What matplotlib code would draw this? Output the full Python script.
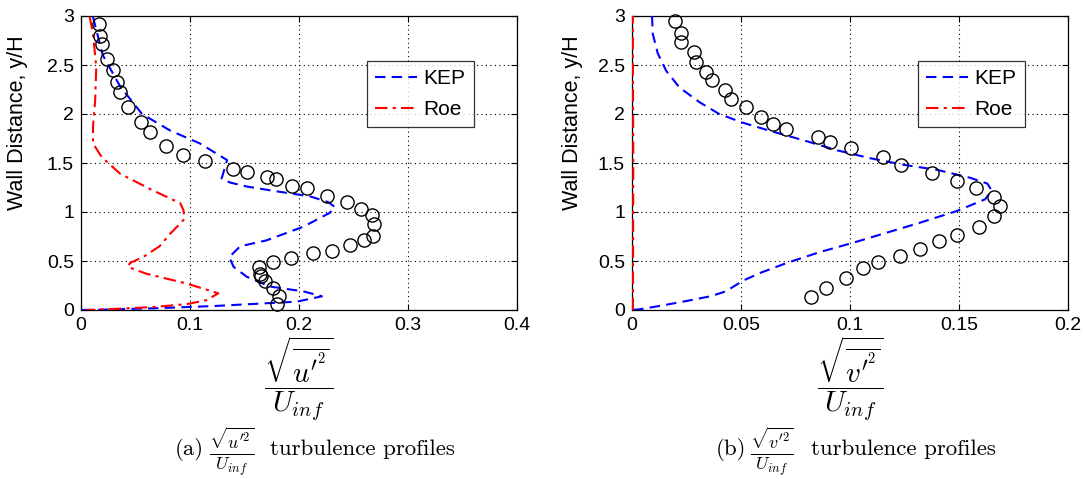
import matplotlib
matplotlib.use("Agg")
import matplotlib.pyplot as plt

plt.rcParams['font.family'] = ['Liberation Sans', 'DejaVu Sans']
plt.rcParams['mathtext.fontset'] = 'cm'

# ---- left panel (u') ----
u_exp_x = [0.0168, 0.0174, 0.019, 0.024, 0.029, 0.033, 0.036, 0.043, 0.055, 0.063, 0.078, 0.094,
           0.114, 0.139, 0.152, 0.171, 0.179, 0.194, 0.207, 0.226, 0.244, 0.257, 0.267, 0.269,
           0.268, 0.260, 0.247, 0.230, 0.213, 0.193, 0.176, 0.163, 0.164, 0.165, 0.169, 0.176,
           0.182, 0.180]
u_exp_y = [2.92, 2.80, 2.71, 2.56, 2.45, 2.33, 2.22, 2.07, 1.92, 1.82, 1.67, 1.58,
           1.52, 1.44, 1.41, 1.36, 1.34, 1.27, 1.24, 1.16, 1.10, 1.03, 0.97, 0.88,
           0.76, 0.71, 0.66, 0.60, 0.58, 0.53, 0.49, 0.44, 0.37, 0.35, 0.30, 0.22,
           0.14, 0.06]

u_kep_x = [0.011, 0.020, 0.036, 0.056, 0.082, 0.109, 0.134, 0.129, 0.137, 0.152, 0.180, 0.210,
           0.227, 0.233, 0.228, 0.204, 0.170, 0.146, 0.136, 0.140, 0.152, 0.173, 0.204, 0.221,
           0.198, 0.155, 0.121, 0.066, 0.017, 0.0]
u_kep_y = [2.99, 2.60, 2.28, 2.00, 1.83, 1.70, 1.53, 1.34, 1.30, 1.26, 1.21, 1.16,
           1.10, 1.05, 0.99, 0.85, 0.71, 0.65, 0.54, 0.44, 0.34, 0.24, 0.19, 0.14,
           0.085, 0.06, 0.04, 0.017, 0.003, 0.0]

u_roe_x = [0.008, 0.011, 0.014, 0.013, 0.011, 0.011, 0.019, 0.036, 0.066, 0.091, 0.094, 0.095,
           0.082, 0.072, 0.057, 0.045, 0.043, 0.060, 0.097, 0.126, 0.115, 0.097, 0.066, 0.036,
           0.005]
u_roe_y = [2.99, 2.82, 2.48, 2.14, 1.87, 1.70, 1.56, 1.39, 1.22, 1.09, 1.02, 0.93,
           0.78, 0.65, 0.54, 0.48, 0.44, 0.37, 0.27, 0.17, 0.10, 0.06, 0.03, 0.014,
           0.0]

# ---- right panel (v') ----
v_exp_x = [0.0195, 0.0226, 0.0226, 0.0283, 0.0295, 0.0341, 0.0367, 0.0425, 0.0453, 0.0525,
           0.0594, 0.0648, 0.0705, 0.0851, 0.0906, 0.1006, 0.1151, 0.1232, 0.1375, 0.149,
           0.158, 0.166, 0.169, 0.166, 0.159, 0.149, 0.141, 0.132, 0.123, 0.113, 0.106,
           0.098, 0.089, 0.082]
v_exp_y = [2.95, 2.83, 2.73, 2.63, 2.53, 2.43, 2.35, 2.24, 2.15, 2.07,
           1.97, 1.90, 1.85, 1.77, 1.71, 1.65, 1.56, 1.48, 1.40, 1.32,
           1.24, 1.15, 1.06, 0.96, 0.85, 0.77, 0.70, 0.62, 0.55, 0.49, 0.43,
           0.33, 0.22, 0.13]

v_kep_x = [0.0092, 0.0095, 0.0118, 0.0157, 0.0218, 0.031, 0.040, 0.051, 0.063, 0.079, 0.094,
           0.109, 0.125, 0.140, 0.155, 0.163, 0.165, 0.162, 0.149, 0.132, 0.117, 0.102,
           0.086, 0.071, 0.059, 0.051, 0.043, 0.036, 0.025, 0.0126, 0.0034, 0.0]
v_kep_y = [3.0, 2.82, 2.62, 2.44, 2.27, 2.12, 2.00, 1.91, 1.83, 1.73, 1.63,
           1.55, 1.48, 1.43, 1.35, 1.29, 1.22, 1.13, 1.01, 0.89, 0.79, 0.69,
           0.59, 0.48, 0.38, 0.30, 0.19, 0.14, 0.092, 0.041, 0.007, 0.0]

v_roe_x = [0.0004, 0.0005, 0.0005, 0.0006, 0.0005, 0.0004, 0.0004]
v_roe_y = [0.0, 0.5, 1.0, 1.5, 2.0, 2.5, 3.0]

u_xticks = [0, 0.1, 0.2, 0.3, 0.4]
u_xticklabels = ['0', '0.1', '0.2', '0.3', '0.4']
v_xticks = [0, 0.05, 0.1, 0.15, 0.2]
v_xticklabels = ['0', '0.05', '0.1', '0.15', '0.2']
yticks = [0, 0.5, 1, 1.5, 2, 2.5, 3]
yticklabels = ['0', '0.5', '1', '1.5', '2', '2.5', '3']

fig = plt.figure(figsize=(10.84, 4.79), dpi=100)
W, H = 1084, 479
axL = fig.add_axes([81 / W, 1 - 310 / H, 436 / W, 294 / H])
axR = fig.add_axes([632 / W, 1 - 310 / H, 436 / W, 294 / H])


def style(ax, xticks, xlabels, xmax):
    ax.set_xlim(0, xmax)
    ax.set_ylim(0, 3)
    ax.set_xticks(xticks)
    ax.set_xticklabels(xlabels)
    ax.set_yticks(yticks)
    ax.set_yticklabels(yticklabels)
    ax.tick_params(direction='in', top=True, right=True, labelsize=14, length=4, width=0.8, pad=5)
    ax.grid(True, linestyle=(0, (1, 3)), color='black', linewidth=0.8)
    for s in ax.spines.values():
        s.set_linewidth(0.9)
    ax.set_ylabel('Wall Distance, y/H', fontsize=15.5)


for ax, ex, ey, kx, ky, rx, ry, xt, xl, xm, var, cap, ylx, capx in [
    (axL, u_exp_x, u_exp_y, u_kep_x, u_kep_y, u_roe_x, u_roe_y, u_xticks, u_xticklabels, 0.4,
     'u', '(a)', -0.122, 175),
    (axR, v_exp_x, v_exp_y, v_kep_x, v_kep_y, v_roe_x, v_roe_y, v_xticks, v_xticklabels, 0.2,
     'v', '(b)', -0.112, 716),
]:
    ax.plot(kx, ky, linestyle=(0, (5, 3)), color='blue', linewidth=1.5, label='KEP', zorder=3)
    ax.plot(rx, ry, linestyle=(0, (6, 2.5, 1.5, 2.5)), color='red', linewidth=1.5, label='Roe', zorder=3)
    ax.plot(ex, ey, 'o', markerfacecolor='none', markeredgecolor='black', markersize=9.5,
            markeredgewidth=1.0, zorder=4, clip_on=False)
    style(ax, xt, xl, xm)
    ax.yaxis.set_label_coords(ylx, 0.636)
    leg = ax.legend(loc='upper left', bbox_to_anchor=(286 / 436, 1 - 45 / 294), fontsize=15,
                    frameon=True, fancybox=False, edgecolor='black', handlelength=2.0,
                    handletextpad=0.3, borderpad=0.4, labelspacing=0.55, borderaxespad=0)
    leg.get_frame().set_linewidth(0.9)
    ax.set_xlabel(r'$\dfrac{\sqrt{\overline{%s^{\prime^2}}}}{U_{inf}}$' % var, fontsize=21, labelpad=0.5)
    # caption pieces
    fig.text(capx / W, 1 - 455 / H, cap, ha='left', va='baseline', fontsize=16.5, family='cmr10')
    fig.text((capx + 34) / W, 1 - 452 / H,
             r'$\frac{\sqrt{%s^{\prime 2}}}{U_{inf}}$' % var,
             ha='left', va='center', fontsize=18.5)
    fig.text((capx + 95) / W, 1 - 455 / H, 'turbulence profiles', ha='left', va='baseline',
             fontsize=16.5, family='cmr10')

fig.savefig('out.png', dpi=100)
